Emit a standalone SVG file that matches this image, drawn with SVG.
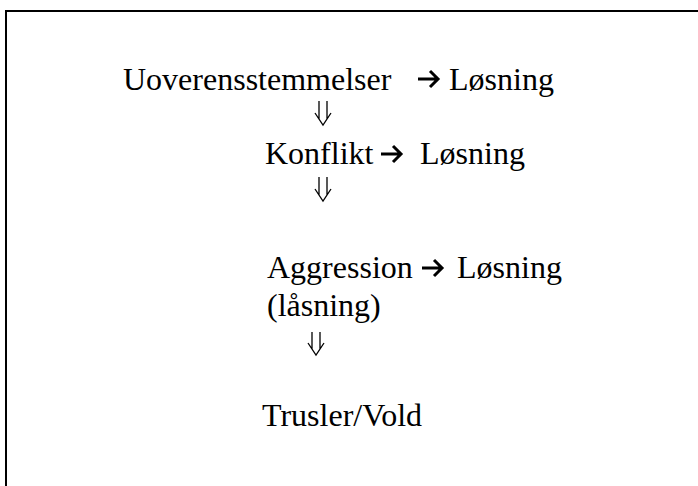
<svg xmlns="http://www.w3.org/2000/svg" width="698" height="486" viewBox="0 0 698 486">
  <style>
    .t { font-family: "Liberation Serif", "Times New Roman", serif; font-size: 32px; fill: #000; }
    .frame { fill: none; stroke: #000; stroke-width: 2; }
    .bold { fill: none; stroke: #000; stroke-width: 3; stroke-linejoin: miter; }
    .thin { fill: none; stroke: #000; stroke-width: 1.3; }
  </style>
  <rect width="698" height="486" fill="#fff"/>
  <path class="frame" d="M6,486 V11 H698"/>
  <g id="n-uoverensstemmelser"><text class="t" x="123" y="90">Uoverensstemmelser</text></g>
  <g id="n-losning1"><text class="t" x="449" y="90">Løsning</text></g>
  <g id="n-konflikt"><text class="t" x="265" y="164">Konflikt</text></g>
  <g id="n-losning2"><text class="t" x="420" y="164">Løsning</text></g>
  <g id="n-aggression"><text class="t" x="267" y="278">Aggression</text><text class="t" x="267" y="316">(låsning)</text></g>
  <g id="n-losning3"><text class="t" x="457" y="278">Løsning</text></g>
  <g id="n-trusler"><text class="t" x="262" y="426">Trusler/Vold</text></g>
  <g id="connectors">
    <path class="bold" d="M418,79 H438 M430,71 L438,79 L430,87"/>
    <path class="bold" d="M381,154 H401 M393,146 L401,154 L393,162"/>
    <path class="bold" d="M422,268 H442 M434,260 L442,268 L434,276"/>
    <path class="thin" d="M319,101 V119 M327,101 V119 M315,113 L323,125 L331,113"/>
    <path class="thin" d="M319,177 V195 M327,177 V195 M315,189 L323,201 L331,189"/>
    <path class="thin" d="M312,332 V349 M320,332 V349 M308,343 L316,355 L324,343"/>
  </g>
</svg>
